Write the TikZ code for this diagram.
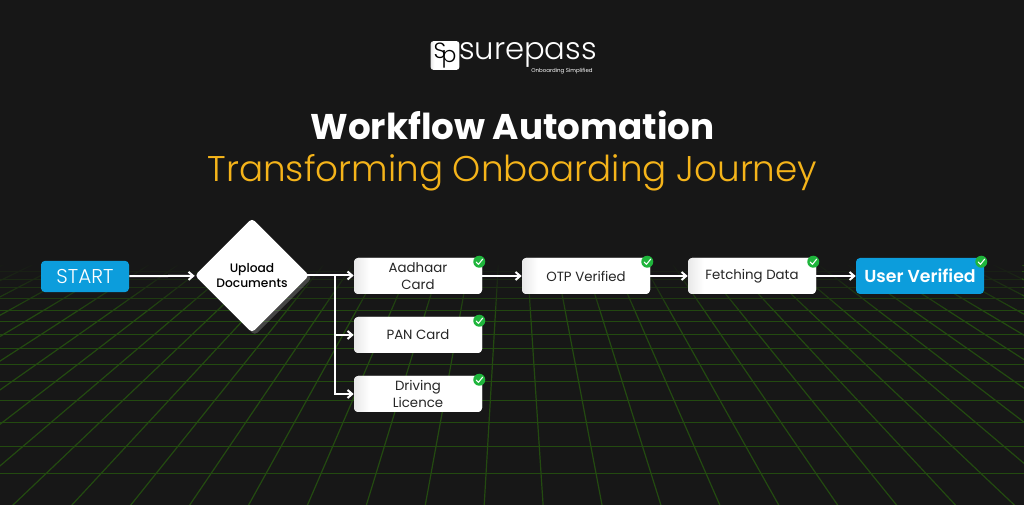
\documentclass[tikz,border=0pt]{standalone}
\usepackage{fontspec}
\usepackage{tikz}
\usetikzlibrary{arrows.meta,shapes.geometric,shadows,fadings}
\setmainfont{Poppins}
\newfontfamily\poplight{Poppins Light}
\newfontfamily\popmed{Poppins Medium}
\newfontfamily\popsemi{Poppins SemiBold}
\definecolor{bgdark}{HTML}{171717}
\definecolor{gridgreen}{HTML}{234A10}
\definecolor{skyblue}{HTML}{0C9DDC}
\definecolor{titleorange}{HTML}{F5B41A}
\definecolor{tickgreen}{HTML}{1FB53C}
\tikzfading[name=gridfade,top color=transparent!0,bottom color=transparent!100]
\pgfdeclarehorizontalshading{boxshade}{100bp}{color(0bp)=(black!9); color(25bp)=(black!9); color(31bp)=(white); color(100bp)=(white)}
\tikzset{
    flowarrow/.style={-{Straight Barb[length=3.5pt,width=6pt]},white,line width=1.5pt},
    gridline/.style={gridgreen,line width=0.9pt},
    stepbox/.style={fill=white,rounded corners=3pt,minimum width=96pt,minimum height=27pt,inner sep=0pt,align=center,
        shading=boxshade,text=black!85,font=\fontsize{10pt}{12.2pt}\selectfont},
    bluebox/.style={fill=skyblue,rounded corners=3pt,inner sep=0pt,text=white,align=center},
    tick/.pic={
        \fill[tickgreen](0,0)circle(6);
        \draw[white,line width=0.8pt,line cap=round,line join=round](-3,0.3)--(-0.8,2.6)--(3.4,-2.6);
    }
}
\begin{document}
\begin{tikzpicture}[x=0.75pt,y=-0.75pt]
    \useasboundingbox (0,0) rectangle (1024,505);
    \fill[bgdark](0,0)rectangle(1024,505);

    \begin{scope}
        \clip (0,266) rectangle (1024,505);
        \foreach \k in {-14,...,29}{
            \pgfmathsetmacro{\footx}{512+(13+58.9*\k-512)*1.2}
            \draw[gridline](512,30)--(\footx,600);
        }
        \foreach \h in {272,280,288,299,311,322,335,349,365,382,401,423,447,474}
            \draw[gridline,line width=0.75pt](0,\h)--(1024,\h);
        \fill[bgdark,path fading=gridfade](0,262)rectangle(1024,312);
    \end{scope}

    \node[rounded corners=2pt,minimum width=21.5pt,minimum height=21.5pt,inner sep=0pt,shading=boxshade,text=black,font=\poplight\fontsize{16.5pt}{16.5pt}\selectfont] (logo) at (445,55.5) {S\kern-3.5pt\raisebox{-3pt}{p}};
    \node[text=white,font=\poplight\fontsize{23pt}{23pt}\selectfont,inner sep=0pt] (brand) at (528,55) {surepass};
    \node[text=white,font=\fontsize{4.1pt}{5pt}\selectfont,inner sep=0pt] (slogan) at (562,71.5) {Onboarding Simplified};

    \node[text=white,font=\bfseries\fontsize{26.8pt}{33pt}\selectfont,inner sep=0pt] (title) at (512.5,125) {Workflow Automation};
    \node[text=titleorange,font=\poplight\fontsize{26.8pt}{33pt}\selectfont,inner sep=0pt] (subtitle) at (512.5,173) {Transforming Onboarding Journey};

    \node[bluebox,minimum width=66pt,minimum height=23.5pt,font=\poplight\fontsize{15pt}{18pt}\selectfont] (start) at (85,276.5) {START};
    \node[diamond,aspect=1,fill=white,rounded corners=3pt,minimum width=86pt,minimum height=86pt,inner sep=0pt,align=center,
        drop shadow={opacity=0.45,shadow xshift=2pt,shadow yshift=-2pt},text=black,
        font=\popmed\fontsize{9.2pt}{11.2pt}\selectfont] (docs) at (252,275.5) {Upload\\Documents};

    \node[stepbox] (aadhaar) at (418,276) {Aadhaar\\Card};
    \node[stepbox] (pan) at (418,335) {PAN Card};
    \node[stepbox] (driving) at (418,394) {Driving\\Licence};
    \node[stepbox] (otp) at (586,276) {OTP Verified};
    \node[stepbox] (fetch) at (752,276) {Fetching Data};
    \node[bluebox,minimum width=96pt,minimum height=27pt,font=\popsemi\fontsize{13pt}{16pt}\selectfont] (verified) at (920,276) {User Verified};

    \coordinate (branch) at (335,275.5);
    \draw[flowarrow](start)--(docs);
    \draw[flowarrow]([xshift=-2pt]docs.east)--(aadhaar.west|-docs.east);
    \draw[flowarrow](branch)|-(pan);
    \draw[flowarrow](branch)|-(driving);
    \draw[flowarrow](aadhaar)--(otp);
    \draw[flowarrow](otp)--(fetch);
    \draw[flowarrow](fetch)--(verified);

    \foreach \boxname in {aadhaar,pan,driving,otp,fetch,verified}
        \path (\boxname.north east)+(-3,4) pic {tick};
\end{tikzpicture}
\end{document}
